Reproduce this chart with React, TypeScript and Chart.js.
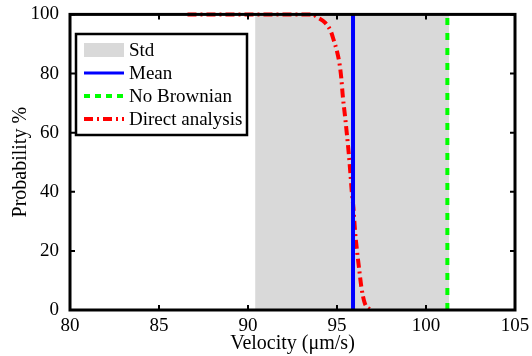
import React, { useEffect, useRef } from "react";
import { Chart, registerables } from "chart.js";
Chart.register(...registerables);

const stdRange = [90.4, 101.3];
const meanVelocity = 95.9;
const noBrownianVelocity = 101.2;
const directX = [86.6, 90, 93.6, 93.93, 94.33, 94.65, 94.82, 95.0, 95.15, 95.24, 95.33, 95.45, 95.55, 95.66, 95.75, 95.83, 95.92, 96.01, 96.11, 96.24, 96.37, 96.56, 96.89];
const directY = [100, 100, 100, 98.9, 97.2, 94.3, 91.2, 87.5, 83.0, 78.5, 72.1, 65.6, 59.8, 53.0, 46.4, 40.0, 34.8, 27.0, 20.8, 14.1, 7.7, 2.3, 0];
const xTicks = [80, 85, 90, 95, 100, 105];
const yTicks = [0, 20, 40, 60, 80, 100];
const legendLabels = ["Std", "Mean", "No Brownian", "Direct analysis"];

const FONT = "'Liberation Serif', 'Times New Roman', serif";

const framePlugin = {
  id: "frame",
  afterDatasetsDraw(chart: any) {
    const { ctx, chartArea: a, scales } = chart;
    ctx.save();
    ctx.strokeStyle = "#000";
    ctx.lineWidth = 2;
    ctx.beginPath();
    for (const v of xTicks) {
      const px = scales.x.getPixelForValue(v);
      ctx.moveTo(px, a.bottom); ctx.lineTo(px, a.bottom - 5);
      ctx.moveTo(px, a.top); ctx.lineTo(px, a.top + 5);
    }
    for (const v of yTicks) {
      const py = scales.y.getPixelForValue(v);
      ctx.moveTo(a.left, py); ctx.lineTo(a.left + 5, py);
      ctx.moveTo(a.right, py); ctx.lineTo(a.right - 5, py);
    }
    ctx.stroke();
    ctx.lineWidth = 3;
    ctx.strokeRect(a.left, a.top, a.right - a.left, a.bottom - a.top);

    const lx = 76, ly = 34, lw = 171, lh = 101;
    ctx.fillStyle = "#fff";
    ctx.fillRect(lx, ly, lw, lh);
    ctx.lineWidth = 2.5;
    ctx.strokeStyle = "#000";
    ctx.strokeRect(lx, ly, lw, lh);
    const rows = [50, 73, 96, 119];
    ctx.font = "19px " + FONT;
    ctx.textBaseline = "middle";
    ctx.textAlign = "left";
    rows.forEach((ry, i) => {
      const sx0 = 84, sx1 = 124;
      if (i === 0) {
        ctx.fillStyle = "#d9d9d9";
        ctx.fillRect(sx0, ry - 7, sx1 - sx0, 14);
      } else {
        ctx.beginPath();
        ctx.lineWidth = i === 1 ? 3 : 4;
        ctx.strokeStyle = i === 1 ? "#0000ff" : i === 2 ? "#00ff00" : "#ff0000";
        ctx.setLineDash(i === 1 ? [] : i === 2 ? [6, 5] : [9, 4, 2, 4]);
        ctx.moveTo(sx0, ry); ctx.lineTo(sx1, ry);
        ctx.stroke();
        ctx.setLineDash([]);
      }
      ctx.fillStyle = "#000";
      ctx.fillText(legendLabels[i], 129, ry + 1);
    });
    ctx.restore();
  },
};

export default function App() {
  const ref = useRef<HTMLCanvasElement>(null);
  useEffect(() => {
    document.body.style.margin = "0";
    const chart = new Chart(ref.current!, {
      type: "line",
      data: {
        datasets: [
          {
            label: legendLabels[0],
            data: [{ x: stdRange[0], y: 100 }, { x: stdRange[1], y: 100 }],
            backgroundColor: "#d9d9d9",
            borderWidth: 0,
            pointRadius: 0,
            fill: "origin",
            order: 10,
          },
          {
            label: legendLabels[3],
            data: directX.map((x, i) => ({ x, y: directY[i] })),
            borderColor: "#ff0000",
            borderWidth: 4,
            borderDash: [9, 4, 2, 4],
            pointRadius: 0,
            cubicInterpolationMode: "monotone",
            fill: false,
            clip: 4,
            order: 3,
          },
          {
            label: legendLabels[1],
            data: [{ x: meanVelocity, y: 0 }, { x: meanVelocity, y: 100 }],
            borderColor: "#0000ff",
            borderWidth: 4,
            pointRadius: 0,
            fill: false,
            order: 2,
          },
          {
            label: legendLabels[2],
            data: [{ x: noBrownianVelocity, y: 0 }, { x: noBrownianVelocity, y: 100 }],
            borderColor: "#00ff00",
            borderWidth: 4,
            borderDash: [7, 8],
            pointRadius: 0,
            fill: false,
            order: 1,
          },
        ],
      },
      options: {
        animation: false,
        responsive: false,
        layout: { padding: { top: 14, right: 17, left: 0, bottom: 0 } },
        plugins: { legend: { display: false }, tooltip: { enabled: false } },
        scales: {
          x: {
            type: "linear",
            min: 80,
            max: 105,
            afterFit: (s: any) => { s.height = 46; },
            afterBuildTicks: (s: any) => { s.ticks = xTicks.map((v) => ({ value: v })); },
            grid: { display: false },
            border: { display: false },
            ticks: { color: "#000", font: { family: FONT, size: 19 }, padding: -3, maxRotation: 0 },
            title: { display: true, text: "Velocity (μm/s)", color: "#000", font: { family: FONT, size: 20 }, padding: { top: -4, bottom: 0 } },
          },
          y: {
            min: 0,
            max: 100,
            afterFit: (s: any) => { s.width = 70; },
            afterBuildTicks: (s: any) => { s.ticks = yTicks.map((v) => ({ value: v })); },
            grid: { display: false },
            border: { display: false },
            ticks: { color: "#000", font: { family: FONT, size: 19 }, padding: 3 },
            title: { display: true, text: "Probability %", color: "#000", font: { family: FONT, size: 20 }, padding: { top: 9, bottom: 0 } },
          },
        },
      },
      plugins: [framePlugin],
    });
    return () => chart.destroy();
  }, []);
  return (
    <div style={{ position: "absolute", left: 0, top: 0, width: 532, height: 356 }}>
      <canvas ref={ref} width={532} height={356} />
    </div>
  );
}
